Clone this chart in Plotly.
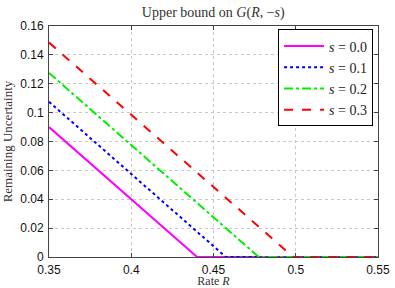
import plotly.graph_objects as go

# Data
s_labels = ["<i>s</i> = 0.0", "<i>s</i> = 0.1", "<i>s</i> = 0.2", "<i>s</i> = 0.3"]
R_s00 = [0.35, 0.440, 0.55]
G_s00 = [0.090, 0.0, 0.0]
R_s01 = [0.35, 0.4575, 0.55]
G_s01 = [0.1075, 0.0, 0.0]
R_s02 = [0.35, 0.4775, 0.55]
G_s02 = [0.1275, 0.0, 0.0]
R_s03 = [0.35, 0.4985, 0.55]
G_s03 = [0.1485, 0.0, 0.0]

x_ticks = [0.35, 0.4, 0.45, 0.5, 0.55]
x_ticktext = ["0.35", "0.4", "0.45", "0.5", "0.55"]
y_ticks = [0, 0.02, 0.04, 0.06, 0.08, 0.1, 0.12, 0.14, 0.16]
y_ticktext = ["0", "0.02", "0.04", "0.06", "0.08", "0.1", "0.12", "0.14", "0.16"]

series = [
    (R_s00, G_s00, "#ff00ff", "solid"),
    (R_s01, G_s01, "#0000ff", "dot"),
    (R_s02, G_s02, "#00ee00", "dashdot"),
    (R_s03, G_s03, "#ff0000", "dash"),
]

serif = "Liberation Serif, DejaVu Serif, serif"
sans = "Liberation Sans, Arial, sans-serif"

fig = go.Figure()
for (xs, ys, col, dash), name in zip(series, s_labels):
    fig.add_trace(go.Scatter(x=xs, y=ys, mode="lines", name=name,
                             line=dict(color=col, width=2, dash=dash)))

fig.update_layout(
    width=395, height=288,
    margin=dict(l=49, r=17, t=26, b=31),
    paper_bgcolor="white", plot_bgcolor="white",
    title=dict(text="Upper bound on <i>G</i>(<i>R</i>, −<i>s</i>)",
               x=0.54, xanchor="center", y=0.957, yanchor="middle",
               font=dict(family=serif, size=14, color="#333")),
    legend=dict(x=0.985, y=0.985, xanchor="right", yanchor="top",
                bgcolor="white", bordercolor="black", borderwidth=1,
                font=dict(family=serif, size=14, color="#222"),
                tracegroupgap=0, itemwidth=40),
    showlegend=True,
)
fig.update_xaxes(range=[0.35, 0.55], tickvals=x_ticks, ticktext=x_ticktext,
                 showline=True, linecolor="#444", linewidth=1, mirror="ticks",
                 ticks="inside", ticklen=4, tickcolor="#444",
                 showgrid=True, gridcolor="#c8c8c8", griddash="dot", gridwidth=1,
                 zeroline=False, automargin=False, ticklabelstandoff=2,
                 tickfont=dict(family=sans, size=12, color="#111"),
                 title=dict(text="Rate <i>R</i>",
                            font=dict(family=serif, size=12, color="#333")))
fig.update_yaxes(range=[0, 0.16], tickvals=y_ticks, ticktext=y_ticktext,
                 showline=True, linecolor="#444", linewidth=1, mirror="ticks",
                 ticks="inside", ticklen=4, tickcolor="#444",
                 showgrid=True, gridcolor="#c8c8c8", griddash="dot", gridwidth=1,
                 zeroline=False, automargin=False, ticklabelstandoff=2,
                 tickfont=dict(family=sans, size=12, color="#111"),
                 title=dict(text="Remaining Uncertainty", standoff=6,
                            font=dict(family=serif, size=13, color="#333")))

fig.write_html("out.html", config={"displayModeBar": False},
               post_script="document.body.style.margin='0';document.body.style.padding='0';")
